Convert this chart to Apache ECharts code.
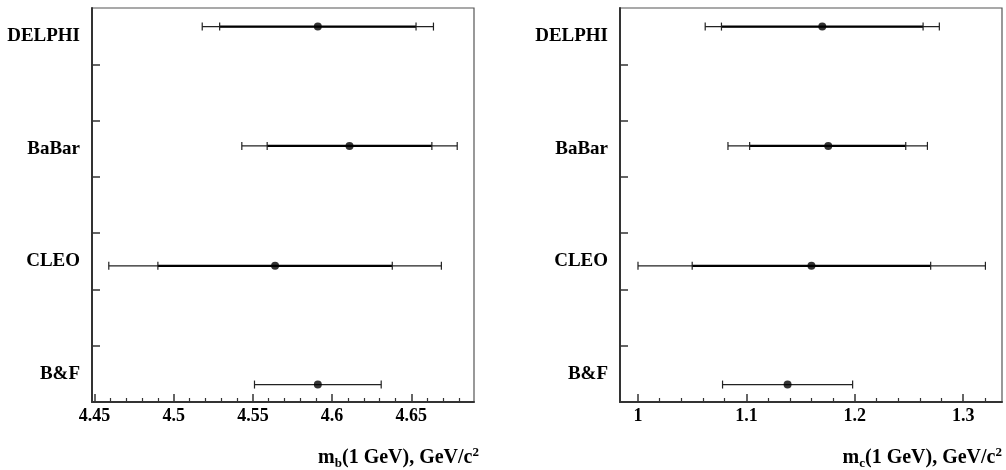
<!DOCTYPE html>
<html><head><meta charset="utf-8">
<script src="https://cdn.jsdelivr.net/npm/echarts@6/dist/echarts.min.js"></script>
<style>html,body{margin:0;padding:0;background:#fff}#c{width:1006px;height:470px}</style>
</head><body><div id="c"></div>
<script>
// ---- data ----
const experiments = ['DELPHI', 'BaBar', 'CLEO', 'B&F'];
const labelRows = [6.5, 4.5, 2.5, 0.5];
const pointRows = [6.67, 4.55, 2.42, 0.31];
const rowTicks = [1, 2, 3, 4, 5, 6];

const mbCentral   = [4.591, 4.611, 4.564, 4.591];
const mbInnerLow  = [4.529, 4.559, 4.490, null];
const mbInnerHigh = [4.653, 4.663, 4.638, null];
const mbOuterLow  = [4.518, 4.543, 4.459, 4.551];
const mbOuterHigh = [4.664, 4.679, 4.669, 4.631];
const mbMajorTicks = [4.45, 4.5, 4.55, 4.6, 4.65];
const mbMinorTicks = [4.46, 4.47, 4.48, 4.49, 4.51, 4.52, 4.53, 4.54, 4.56, 4.57, 4.58, 4.59, 4.61, 4.62, 4.63, 4.64, 4.66, 4.67, 4.68];
const mbRange = [4.4484, 4.6896];

const mcCentral   = [1.170, 1.1755, 1.160, 1.138];
const mcInnerLow  = [1.077, 1.103, 1.050, null];
const mcInnerHigh = [1.263, 1.247, 1.270, null];
const mcOuterLow  = [1.062, 1.083, 1.000, 1.078];
const mcOuterHigh = [1.278, 1.267, 1.3205, 1.198];
const mcMajorTicks = [1, 1.1, 1.2, 1.3];
const mcMinorTicks = [1.02, 1.04, 1.06, 1.08, 1.12, 1.14, 1.16, 1.18, 1.22, 1.24, 1.26, 1.28, 1.32];
const mcRange = [0.9834, 1.3358];

// ---- chart ----
const FONT = 'Liberation Serif';
const chart = echarts.init(document.getElementById('c'));

function fmtTick(v) { return String(Math.round(v * 1000) / 1000); }

function xAxes(gridIndex, range, majors, minors, nameParts, nameGap) {
  return [{
    type: 'value', gridIndex: gridIndex, position: 'bottom',
    min: range[0], max: range[1],
    splitLine: { show: false },
    axisLine: { show: true, onZero: false, lineStyle: { color: '#333', width: 2 } },
    axisTick: { show: true, inside: true, length: 8, customValues: majors, lineStyle: { color: '#333', width: 1.5 } },
    axisLabel: { show: true, customValues: majors, formatter: fmtTick, margin: 5,
      fontFamily: FONT, fontWeight: 'bold', fontSize: 18, color: '#000' },
    name: '{t|m}{sub|' + nameParts + '}{t|(1 GeV), GeV/c}{sup|2}',
    nameLocation: 'end', nameGap: nameGap,
    nameTextStyle: {
      align: 'right', verticalAlign: 'top', padding: [44, 0, 0, 0],
      rich: {
        t: { fontFamily: FONT, fontWeight: 'bold', fontSize: 20, color: '#000' },
        sub: { fontFamily: FONT, fontWeight: 'bold', fontSize: 13, color: '#000', padding: [11, 0, 0, 0] },
        sup: { fontFamily: FONT, fontWeight: 'bold', fontSize: 13, color: '#000', padding: [0, 0, 11, 0] }
      }
    }
  }, {
    type: 'value', gridIndex: gridIndex, position: 'bottom',
    min: range[0], max: range[1],
    splitLine: { show: false },
    axisLine: { show: false },
    axisTick: { show: true, inside: true, length: 4, customValues: minors, lineStyle: { color: '#333', width: 1.2 } },
    axisLabel: { show: false }
  }];
}

function yAxis(gridIndex) {
  return {
    type: 'value', gridIndex: gridIndex, min: 0, max: 7,
    splitLine: { show: false },
    axisLine: { show: true, lineStyle: { color: '#333', width: 2 } },
    axisTick: { show: true, inside: true, length: 8, customValues: rowTicks, lineStyle: { color: '#333', width: 1.5 } },
    axisLabel: { show: true, customValues: labelRows, margin: 12,
      formatter: function (v) { const i = labelRows.indexOf(v); return i >= 0 ? experiments[i] : ''; },
      fontFamily: FONT, fontWeight: 'bold', fontSize: 19, color: '#000' }
  };
}

function errData(c, il, ih, ol, oh) {
  return c.map((v, i) => [v, pointRows[i], il[i] == null ? NaN : il[i], ih[i] == null ? NaN : ih[i], ol[i], oh[i]]);
}

function renderErr(params, api) {
  const y = api.value(1);
  const il = api.value(2), ih = api.value(3), ol = api.value(4), oh = api.value(5);
  const children = [];
  const capH = 4;
  const pOL = api.coord([ol, y]), pOH = api.coord([oh, y]);
  children.push({ type: 'line', shape: { x1: pOL[0], y1: pOL[1], x2: pOH[0], y2: pOH[1] }, style: { stroke: '#222', lineWidth: 1.2 } });
  children.push({ type: 'line', shape: { x1: pOL[0], y1: pOL[1] - capH, x2: pOL[0], y2: pOL[1] + capH }, style: { stroke: '#222', lineWidth: 1.2 } });
  children.push({ type: 'line', shape: { x1: pOH[0], y1: pOH[1] - capH, x2: pOH[0], y2: pOH[1] + capH }, style: { stroke: '#222', lineWidth: 1.2 } });
  if (!isNaN(il) && !isNaN(ih)) {
    const pIL = api.coord([il, y]), pIH = api.coord([ih, y]);
    children.push({ type: 'line', shape: { x1: pIL[0], y1: pIL[1], x2: pIH[0], y2: pIH[1] }, style: { stroke: '#000', lineWidth: 2.2 } });
    children.push({ type: 'line', shape: { x1: pIL[0], y1: pIL[1] - capH, x2: pIL[0], y2: pIL[1] + capH }, style: { stroke: '#222', lineWidth: 1.2 } });
    children.push({ type: 'line', shape: { x1: pIH[0], y1: pIH[1] - capH, x2: pIH[0], y2: pIH[1] + capH }, style: { stroke: '#222', lineWidth: 1.2 } });
  }
  return { type: 'group', children: children };
}

const option = {
  animation: false,
  backgroundColor: '#fff',
  grid: [
    { left: 92, right: 532, top: 8, bottom: 68, containLabel: false, outerBoundsMode: 'none', show: true, borderColor: '#555', borderWidth: 1.2, backgroundColor: 'transparent' },
    { left: 620, right: 4, top: 8, bottom: 68, containLabel: false, outerBoundsMode: 'none', show: true, borderColor: '#555', borderWidth: 1.2, backgroundColor: 'transparent' }
  ],
  xAxis: [].concat(
    xAxes(0, mbRange, mbMajorTicks, mbMinorTicks, 'b', 5),
    xAxes(1, mcRange, mcMajorTicks, mcMinorTicks, 'c', 0)
  ),
  yAxis: [yAxis(0), yAxis(1)],
  series: [
    { type: 'custom', xAxisIndex: 0, yAxisIndex: 0, renderItem: renderErr, data: errData(mbCentral, mbInnerLow, mbInnerHigh, mbOuterLow, mbOuterHigh), encode: { x: 0, y: 1 }, z: 2 },
    { type: 'scatter', xAxisIndex: 0, yAxisIndex: 0, symbol: 'circle', symbolSize: 8, itemStyle: { color: '#000' }, data: mbCentral.map((v, i) => [v, pointRows[i]]), z: 3 },
    { type: 'custom', xAxisIndex: 2, yAxisIndex: 1, renderItem: renderErr, data: errData(mcCentral, mcInnerLow, mcInnerHigh, mcOuterLow, mcOuterHigh), encode: { x: 0, y: 1 }, z: 2 },
    { type: 'scatter', xAxisIndex: 2, yAxisIndex: 1, symbol: 'circle', symbolSize: 8, itemStyle: { color: '#000' }, data: mcCentral.map((v, i) => [v, pointRows[i]]), z: 3 }
  ]
};
chart.setOption(option);
</script>
</body></html>
